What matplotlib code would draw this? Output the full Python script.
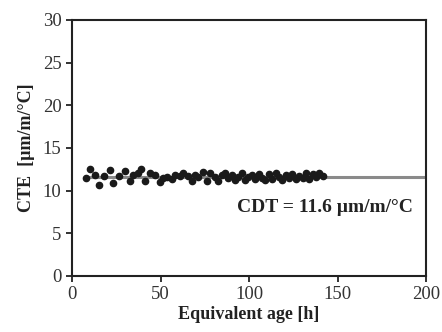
import matplotlib
matplotlib.use('Agg')
import matplotlib.pyplot as plt

# measured CTE values
age = [7.9, 10.2, 13.0, 15.4, 18.3, 21.5, 23.4, 26.7, 30.0, 32.8, 34.7, 37.1, 39.0,
       41.2, 44.0, 46.9, 49.7, 51.6, 53.5, 56.3, 58.2, 61.0, 62.9, 65.4, 67.6, 69.5,
       71.4, 74.2, 76.1, 77.9, 80.8, 82.7, 84.6, 86.4, 88.3, 90.2, 92.0, 93.9, 95.8,
       97.7, 99.6, 101.5, 103.5, 105.4, 107.3, 109.2, 111.1, 113.0, 115.0, 116.9,
       118.8, 120.7, 122.6, 124.5, 126.4, 128.3, 130.2, 132.1, 134.0, 135.9, 137.8,
       139.7, 141.6]
cte = [11.45, 12.5, 11.84, 10.67, 11.72, 12.43, 10.94, 11.72, 12.3, 11.14, 11.84, 12.03,
       12.5, 11.14, 12.03, 11.84, 11.06, 11.45, 11.64, 11.33, 11.84, 11.72, 12.1, 11.72,
       11.14, 11.84, 11.64, 12.23, 11.14, 12.03, 11.64, 11.14, 11.84, 12.03, 11.45, 11.84,
       11.25, 11.64, 12.03, 11.25, 11.64, 11.84, 11.3, 12.0, 11.5, 11.2, 11.9, 11.4,
       12.1, 11.6, 11.25, 11.85, 11.45, 12.0, 11.3, 11.75, 11.5, 12.05, 11.35, 11.9,
       11.6, 12.1, 11.7]
cdt = 11.6
line_x = [7.9, 200]

plt.rcParams['font.family'] = 'Liberation Serif'
fig = plt.figure(figsize=(4.42, 3.32), dpi=100)
ax = fig.add_axes([0.163, 0.169, 0.801, 0.771])

ax.plot(line_x, [cdt, cdt], color='#8a8a8a', lw=2.2, zorder=1)
ax.plot(age, cte, 'o', color='#1a1a1a', ms=4.5, zorder=2)

ax.set_xlim(0, 200)
ax.set_ylim(0, 30)
ax.set_xticks([0, 50, 100, 150, 200])
ax.set_yticks([0, 5, 10, 15, 20, 25, 30])
ax.tick_params(labelsize=13.5, width=1.3, length=4, color='#222222', labelcolor='#333333')
for s in ax.spines.values():
    s.set_linewidth(1.5)
    s.set_color('#222222')
ax.set_xlabel('Equivalent age [h]', fontsize=13, fontweight='bold', labelpad=2, color='#222222')
ax.set_ylabel('CTE  [µm/m/°C]', fontsize=13, fontweight='bold', labelpad=6, color='#222222')
ax.text(143, 8.0, 'CDT = 11.6 µm/m/°C', fontsize=14, fontweight='bold',
        ha='center', va='center', color='#222222')

fig.savefig('out.png', dpi=100)
